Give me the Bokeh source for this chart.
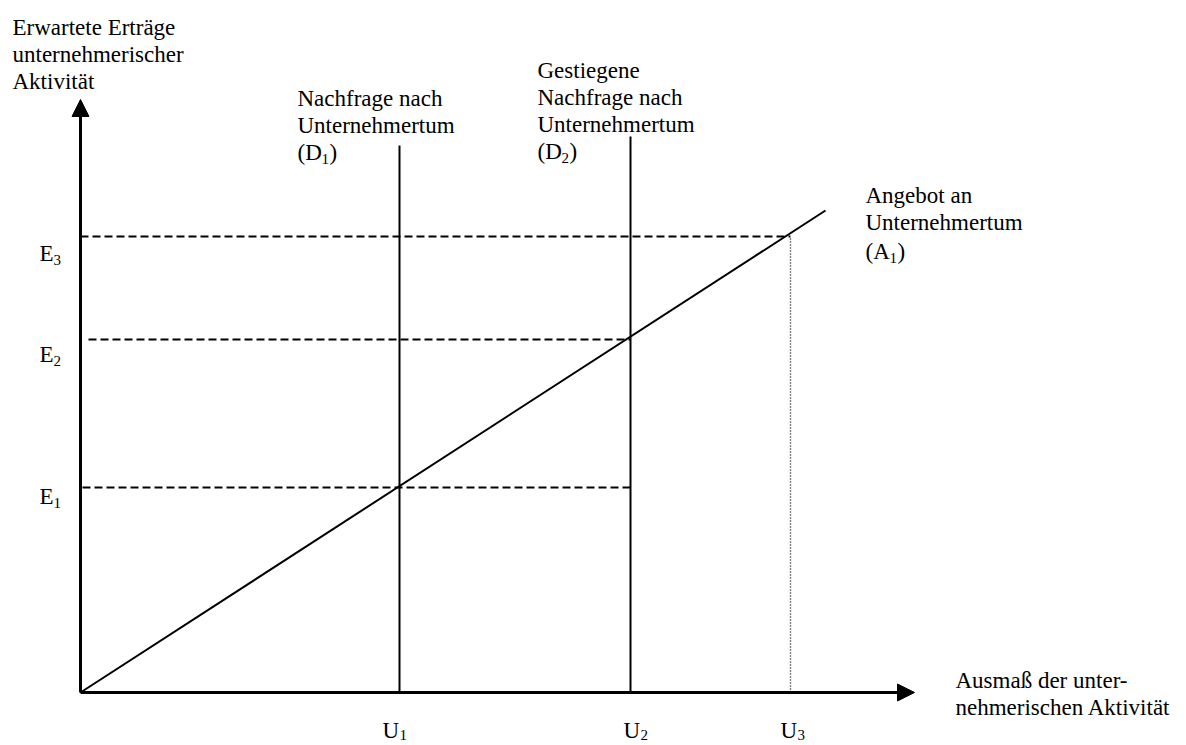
from bokeh.plotting import figure
from bokeh.models import Range1d, Arrow, NormalHead
from bokeh.core.properties import value
from bokeh.embed import file_html
from bokeh.resources import INLINE

# ---- data (diagram units, origin at axis intersection) ----
u_values = [319, 550, 710]          # U1, U2, U3
e_values = [205, 353, 456]          # E1, E2, E3
supply_x = [0, 745]
supply_y = [0, 482]
d_tops = [547, 556]                 # top ends of D1, D2
dash_start = [2, 8, 0]              # left ends of E1, E2, E3 dashed guides
x_axis_end = 834
y_axis_end = 593

u_main = ["U", "U", "U"]
u_subs = ["1", "2", "3"]
e_main = ["E", "E", "E"]
e_subs = ["1", "2", "3"]

y_title = ["Erwartete Erträge", "unternehmerischer", "Aktivität"]
x_title = ["Ausmaß der unter-", "nehmerischen Aktivität"]
d1_title = ["Nachfrage nach", "Unternehmertum"]
d2_title = ["Gestiegene", "Nachfrage  nach", "Unternehmertum"]
a1_title = ["Angebot an", "Unternehmertum"]

FONT = value("Liberation Serif")
FS = "23px"
SFS = "15px"
LH = 27

p = figure(width=1186, height=745, output_backend="svg", toolbar_location=None,
           x_range=Range1d(-80, 1106), y_range=Range1d(-53, 692),
           min_border=0, outline_line_color=None)
p.axis.visible = False
p.grid.visible = False
p.background_fill_color = "white"
p.border_fill_color = "white"

# axes with arrows
p.add_layout(Arrow(x_start=0, y_start=0, x_end=x_axis_end, y_end=0, line_width=3,
                   line_color="black",
                   end=NormalHead(size=17, fill_color="black", line_color="black", line_width=1)))
p.add_layout(Arrow(x_start=0, y_start=0, x_end=0, y_end=y_axis_end, line_width=3,
                   line_color="black",
                   end=NormalHead(size=17, fill_color="black", line_color="black", line_width=1)))

# supply line
p.line(supply_x, supply_y, line_color="black", line_width=2)

# demand lines
p.segment(x0=u_values[:2], y0=[0, 0], x1=u_values[:2], y1=d_tops,
          line_color="black", line_width=2)

# dashed guides from E values
p.segment(x0=dash_start, y0=e_values, x1=[u_values[1], u_values[1], u_values[2]],
          y1=e_values, line_color="black", line_width=1.8, line_dash="8 4")

# dotted guide at U3
p.segment(x0=[u_values[2]], y0=[0], x1=[u_values[2]], y1=[e_values[2]],
          line_color="black", line_width=1.4, line_dash="1 2")


def txt(xs, ys, texts, size=FS, xo=0, yo=0):
    p.text(x=xs, y=ys, text=texts, text_font=FONT, text_font_size=size,
           text_color="black", text_align="left", text_baseline="alphabetic",
           x_offset=xo, y_offset=yo)


def block(x, y_top, lines):
    txt([x] * len(lines), [y_top - i * LH for i in range(len(lines))], lines)

# titles
block(-68, 665, y_title)
block(875, 12, x_title)
block(217, 594, d1_title)
txt([217], [540], ["(D"]); txt([217], [540], ["1"], SFS, 24, 6); txt([217], [540], [")"], xo=32)
block(457, 622, d2_title)
txt([457], [541], ["(D"]); txt([457], [541], ["2"], SFS, 24, 6); txt([457], [541], [")"], xo=32)
block(785, 497, a1_title)
txt([785], [441], ["(A"]); txt([785], [441], ["1"], SFS, 24, 6); txt([785], [441], [")"], xo=32)

# E labels
e_lab_y = [e_values[0] - 9, e_values[1] - 15, e_values[2] - 17]
txt([-41] * 3, e_lab_y, e_main)
txt([-41] * 3, e_lab_y, e_subs, SFS, 14, 6)

# U labels
u_lab_x = [u_values[0] - 17, u_values[1] - 7, u_values[2] - 10]
txt(u_lab_x, [-38] * 3, u_main)
txt(u_lab_x, [-38] * 3, u_subs, SFS, 17, 4)

open("out.html", "w").write(file_html(p, INLINE))
